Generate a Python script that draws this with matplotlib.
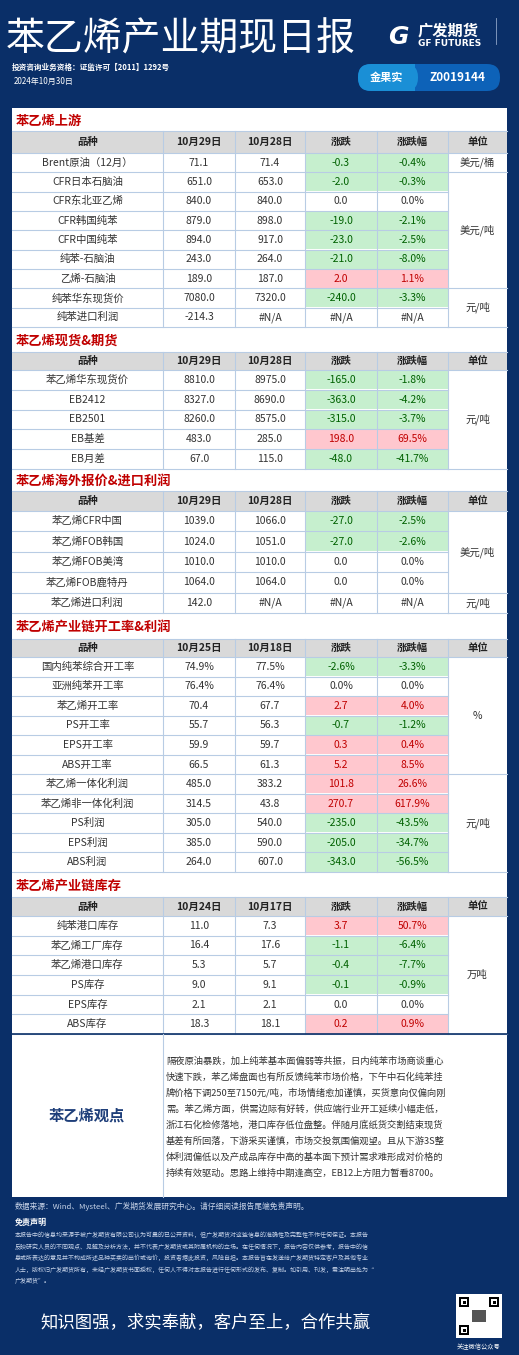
import matplotlib
matplotlib.use("Agg")
import matplotlib.pyplot as plt
from matplotlib.patches import Rectangle, FancyBboxPatch

plt.rcParams['font.family'] = ['Noto Sans CJK SC', 'DejaVu Sans']

# ---- data ----
s1_names = ["Brent原油（12月）", "CFR日本石脑油", "CFR东北亚乙烯", "CFR韩国纯苯", "CFR中国纯苯",
            "纯苯-石脑油", "乙烯-石脑油", "纯苯华东现货价", "纯苯进口利润"]
s1_cur = ["71.1", "651.0", "840.0", "879.0", "894.0", "243.0", "189.0", "7080.0", "-214.3"]
s1_prev = ["71.4", "653.0", "840.0", "898.0", "917.0", "264.0", "187.0", "7320.0", "#N/A"]
s1_chg = ["-0.3", "-2.0", "0.0", "-19.0", "-23.0", "-21.0", "2.0", "-240.0", "#N/A"]
s1_pct = ["-0.4%", "-0.3%", "0.0%", "-2.1%", "-2.5%", "-8.0%", "1.1%", "-3.3%", "#N/A"]
s1_units = [("美元/桶", 0, 1), ("美元/吨", 1, 7), ("元/吨", 7, 9)]

s2_names = ["苯乙烯华东现货价", "EB2412", "EB2501", "EB基差", "EB月差"]
s2_cur = ["8810.0", "8327.0", "8260.0", "483.0", "67.0"]
s2_prev = ["8975.0", "8690.0", "8575.0", "285.0", "115.0"]
s2_chg = ["-165.0", "-363.0", "-315.0", "198.0", "-48.0"]
s2_pct = ["-1.8%", "-4.2%", "-3.7%", "69.5%", "-41.7%"]
s2_units = [("元/吨", 0, 5)]

s3_names = ["苯乙烯CFR中国", "苯乙烯FOB韩国", "苯乙烯FOB美湾", "苯乙烯FOB鹿特丹", "苯乙烯进口利润"]
s3_cur = ["1039.0", "1024.0", "1010.0", "1064.0", "142.0"]
s3_prev = ["1066.0", "1051.0", "1010.0", "1064.0", "#N/A"]
s3_chg = ["-27.0", "-27.0", "0.0", "0.0", "#N/A"]
s3_pct = ["-2.5%", "-2.6%", "0.0%", "0.0%", "#N/A"]
s3_units = [("美元/吨", 0, 4), ("元/吨", 4, 5)]

s4_names = ["国内纯苯综合开工率", "亚洲纯苯开工率", "苯乙烯开工率", "PS开工率", "EPS开工率", "ABS开工率",
            "苯乙烯一体化利润", "苯乙烯非一体化利润", "PS利润", "EPS利润", "ABS利润"]
s4_cur = ["74.9%", "76.4%", "70.4", "55.7", "59.9", "66.5", "485.0", "314.5", "305.0", "385.0", "264.0"]
s4_prev = ["77.5%", "76.4%", "67.7", "56.3", "59.7", "61.3", "383.2", "43.8", "540.0", "590.0", "607.0"]
s4_chg = ["-2.6%", "0.0%", "2.7", "-0.7", "0.3", "5.2", "101.8", "270.7", "-235.0", "-205.0", "-343.0"]
s4_pct = ["-3.3%", "0.0%", "4.0%", "-1.2%", "0.4%", "8.5%", "26.6%", "617.9%", "-43.5%", "-34.7%", "-56.5%"]
s4_units = [("%", 0, 6), ("元/吨", 6, 11)]

s5_names = ["纯苯港口库存", "苯乙烯工厂库存", "苯乙烯港口库存", "PS库存", "EPS库存", "ABS库存"]
s5_cur = ["11.0", "16.4", "5.3", "9.0", "2.1", "18.3"]
s5_prev = ["7.3", "17.6", "5.7", "9.1", "2.1", "18.1"]
s5_chg = ["3.7", "-1.1", "-0.4", "-0.1", "0.0", "0.2"]
s5_pct = ["50.7%", "-6.4%", "-7.7%", "-0.9%", "0.0%", "0.9%"]
s5_units = [("万吨", 0, 6)]

sections = [
    ("苯乙烯上游", ("10月29日", "10月28日"), s1_names, s1_cur, s1_prev, s1_chg, s1_pct, s1_units, (108, 131, 153, 327)),
    ("苯乙烯现货&期货", ("10月29日", "10月28日"), s2_names, s2_cur, s2_prev, s2_chg, s2_pct, s2_units, (327, 352, 370, 469)),
    ("苯乙烯海外报价&进口利润", ("10月29日", "10月28日"), s3_names, s3_cur, s3_prev, s3_chg, s3_pct, s3_units, (469, 491, 511, 613)),
    ("苯乙烯产业链开工率&利润", ("10月25日", "10月18日"), s4_names, s4_cur, s4_prev, s4_chg, s4_pct, s4_units, (613, 639, 657, 872)),
    ("苯乙烯产业链库存", ("10月24日", "10月17日"), s5_names, s5_cur, s5_prev, s5_chg, s5_pct, s5_units, (872, 897, 916, 1034)),
]

opinion = [
    "隔夜原油暴跌，加上纯苯基本面偏弱等共振，日内纯苯市场商谈重心",
    "快速下跌，苯乙烯盘面也有所反馈纯苯市场价格，下午中石化纯苯挂",
    "牌价格下调250至7150元/吨，市场情绪愈加谨慎，买货意向仅偏向刚",
    "需。苯乙烯方面，供需边际有好转，供应端行业开工延续小幅走低，",
    "浙江石化检修落地，港口库存低位盘整。伴随月底纸货交割结束现货",
    "基差有所回落，下游采买谨慎，市场交投氛围偏观望。且从下游3S整",
    "体利润偏低以及产成品库存中高的基本面下预计需求难形成对价格的",
    "持续有效驱动。思路上维持中期逢高空，EB12上方阻力暂看8700。",
]
disclaimer = [
    "本报告中的信息均来源于被广发期货有限公司认为可靠的已公开资料，但广发期货对这些信息的准确性及完整性不作任何保证。本报告",
    "反映研究人员的不同观点、见解及分析方法，并不代表广发期货或其附属机构的立场。在任何情况下，报告内容仅供参考，报告中的信",
    "息或所表达的意见并不构成所述品种买卖的出价或询价，投资者据此投资，风险自担。本报告旨在发送给广发期货特定客户及其他专业",
    "人士，版权归广发期货所有，未经广发期货书面授权，任何人不得对本报告进行任何形式的发布、复制。如引用、刊发，需注明出处为“",
    "广发期货”。",
]

NAVY = "#0a2f68"
GRID = "#b8cce4"
cols = [12, 163, 235, 305, 377, 448, 507]

fig = plt.figure(figsize=(5.19, 13.55), dpi=100)
fig.patch.set_facecolor(NAVY)
ax = fig.add_axes([0, 0, 1, 1])
ax.set_xlim(0, 519)
ax.set_ylim(1355, 0)
ax.axis('off')


def rect(x0, y0, x1, y1, fc, ec="none", lw=0.8):
    ax.add_patch(Rectangle((x0, y0), x1 - x0, y1 - y0, facecolor=fc, edgecolor=ec, linewidth=lw))


# header block
ax.text(6, 40, "苯乙烯产业期现日报", color="white", fontsize=28, va="center", ha="left")
ax.text(418, 30, "广发期货", color="white", fontsize=11, fontweight="bold", va="center")
ax.text(418, 43, "GF FUTURES", color="white", fontsize=6.5, fontweight="bold", va="center", family="DejaVu Sans")
ax.text(398, 37, "G", color="white", fontsize=18, fontweight="bold", fontstyle="italic", va="center", ha="center",
        family="DejaVu Sans")
ax.plot([496, 496], [18, 44], color="#8fa5c8", lw=0.6)
ax.text(12, 67, "投资咨询业务资格：证监许可【2011】1292号", color="white", fontsize=5.5, fontweight="bold", va="center")
ax.text(14, 81, "2024年10月30日", color="white", fontsize=5.8, va="center")
ax.add_patch(FancyBboxPatch((358, 64), 142, 27, boxstyle="round,pad=0,rounding_size=13", fc="#0d62b8", ec="none"))
ax.add_patch(FancyBboxPatch((358, 64), 60, 27, boxstyle="round,pad=0,rounding_size=13", fc="#1a8fd6", ec="none"))
rect(405, 64, 415, 91, "#1a8fd6")
ax.text(386, 77.5, "金果实", color="white", fontsize=8, fontweight="bold", ha="center", va="center")
ax.text(458, 77.5, "Z0019144", color="white", fontsize=8.5, fontweight="bold", ha="center", va="center")

# panel
rect(12, 108, 507, 1197, "white")

for title, dates, names, cur, prev, chg, pct, units, (ty, hy, ry, ey) in sections:
    ax.text(16, (ty + hy) / 2 + 1, title, color="#c00000", fontsize=9.5, fontweight="bold", va="center")
    rect(12, hy, 507, ry, "#d9d9d9")
    heads = ["品种", dates[0], dates[1], "涨跌", "涨跌幅", "单位"]
    for i, h in enumerate(heads):
        ax.text((cols[i] + cols[i + 1]) / 2, (hy + ry) / 2, h, fontsize=7.5, fontweight="bold",
                color="#222222", ha="center", va="center")
    n = len(names)
    rh = (ey - ry) / n
    for r in range(n):
        y0 = ry + r * rh
        yc = y0 + rh / 2
        vals = [names[r], cur[r], prev[r], chg[r], pct[r]]
        try:
            v = float(chg[r].rstrip('%'))
        except ValueError:
            v = 0.0
        for c in range(5):
            color = "#333333"
            if c >= 3 and v != 0:
                fc = "#c6efce" if v < 0 else "#ffc7ce"
                color = "#006100" if v < 0 else "#c00000"
                rect(cols[c] + 0.5, y0 + 0.5, cols[c + 1] - 0.5, y0 + rh - 0.5, fc)
            ax.text((cols[c] + cols[c + 1]) / 2, yc, vals[c], fontsize=7.5, color=color,
                    ha="center", va="center")
        ax.plot([cols[0], cols[5]], [y0 + rh, y0 + rh], color=GRID, lw=0.8)
    for u, a, b in units:
        ax.text((cols[5] + cols[6]) / 2, ry + (a + b) / 2 * rh, u, fontsize=7.5, color="#333333",
                ha="center", va="center")
        ax.plot([cols[5], cols[6]], [ry + b * rh, ry + b * rh], color=GRID, lw=0.8)
    for x in cols[1:6]:
        ax.plot([x, x], [hy, ey], color=GRID, lw=0.8)
    ax.plot([12, 507], [hy, hy], color=GRID, lw=0.8)
    ax.plot([12, 507], [ry, ry], color=GRID, lw=0.8)

# opinion box
ax.plot([12, 507], [1034, 1034], color=NAVY, lw=1.2)
ax.plot([163, 163], [1034, 1197], color=GRID, lw=0.8)
ax.text(87, 1116, "苯乙烯观点", color="#1f3f7a", fontsize=11, fontweight="bold", ha="center", va="center")
for i, line in enumerate(opinion):
    ax.text(166, 1061 + i * 16, line, fontsize=6.7, color="#333333", va="center", ha="left")

# footer
ax.text(15, 1206, "数据来源：Wind、Mysteel、广发期货发展研究中心。请仔细阅读报告尾端免责声明。",
        color="#c8d4e8", fontsize=5.6, va="center")
ax.text(15, 1222, "免责声明", color="white", fontsize=5.8, fontweight="bold", va="center")
for i, line in enumerate(disclaimer):
    ax.text(15, 1235 + i * 11.5, line, color="#c8d4e8", fontsize=4.3, va="center")
ax.text(40, 1323, "知识图强，求实奉献，客户至上，合作共赢", color="white", fontsize=12.5, va="center")

# QR placeholder
rect(456, 1294, 502, 1338, "white")
for qx, qy in [(459, 1297), (489, 1297), (459, 1325)]:
    rect(qx, qy, qx + 10, qy + 10, "black")
    rect(qx + 2, qy + 2, qx + 8, qy + 8, "white")
    rect(qx + 3.5, qy + 3.5, qx + 6.5, qy + 6.5, "black")
rect(472, 1310, 486, 1322, "#555555")
ax.text(479, 1347, "关注微信公众号", color="white", fontsize=4.5, ha="center", va="center")

fig.savefig("out.png", dpi=100, facecolor=NAVY)
